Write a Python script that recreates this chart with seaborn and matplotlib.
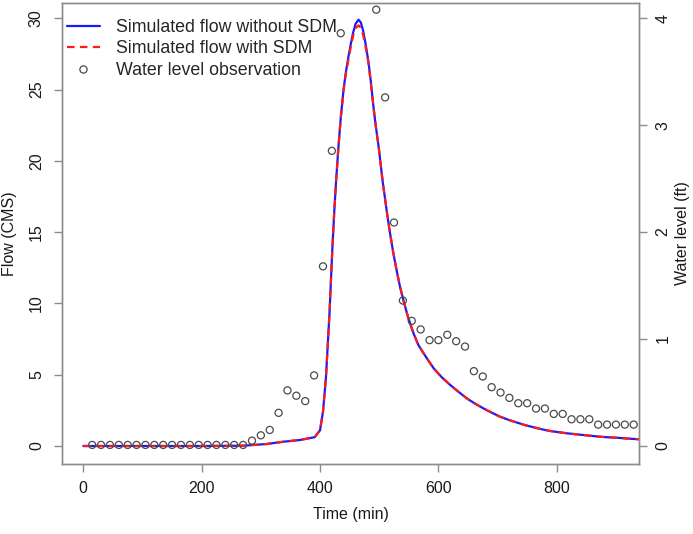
import numpy as np
import pandas as pd
import matplotlib
matplotlib.use("Agg")
import matplotlib.pyplot as plt
from matplotlib.lines import Line2D
import seaborn as sns

# ---------------- data ----------------
sim_time = [0, 100, 200, 270, 310, 338, 366, 391, 400, 405, 410, 416, 421, 424, 427,
            431, 435, 440, 444, 448, 452, 456, 460, 465, 469, 473, 477, 482, 486, 490,
            494, 499, 506, 513, 518, 524, 530, 535, 541, 549, 558, 566, 575, 583, 592,
            605, 620, 634, 648, 662, 676, 690, 704, 718, 733, 746, 761, 775, 789, 803,
            817, 831, 845, 859, 873, 887, 901, 920, 940]
flow_without_sdm = [0, 0, 0, 0.02, 0.14, 0.3, 0.42, 0.62, 1.1, 2.4, 4.8, 9.3, 14.0, 16.4, 18.5,
                    20.9, 23.0, 25.1, 26.3, 27.3, 28.2, 29.0, 29.6, 29.9, 29.7, 29.1, 28.2, 26.9, 25.5, 23.9,
                    22.5, 21.0, 18.5, 16.4, 15.0, 13.5, 12.2, 11.2, 10.2, 9.0, 7.9, 7.1, 6.5, 6.0, 5.45,
                    4.85, 4.28, 3.8, 3.34, 2.97, 2.64, 2.34, 2.06, 1.84, 1.64, 1.47, 1.31, 1.17, 1.05, 0.97,
                    0.89, 0.83, 0.77, 0.71, 0.65, 0.61, 0.58, 0.52, 0.47]
flow_with_sdm = [0, 0, 0, 0.02, 0.14, 0.3, 0.42, 0.62, 1.1, 2.4, 4.8, 9.3, 14.0, 16.4, 18.5,
                 20.9, 23.0, 25.0, 26.2, 27.1, 28.0, 28.8, 29.3, 29.5, 29.35, 28.8, 28.0, 26.8, 25.4, 23.9,
                 22.5, 21.0, 18.5, 16.4, 15.0, 13.5, 12.2, 11.2, 10.2, 9.0, 7.9, 7.1, 6.5, 6.0, 5.45,
                 4.85, 4.28, 3.8, 3.34, 2.97, 2.64, 2.34, 2.06, 1.84, 1.64, 1.47, 1.31, 1.17, 1.05, 0.97,
                 0.89, 0.83, 0.77, 0.71, 0.65, 0.61, 0.58, 0.52, 0.47]

obs_time = [15, 30, 45, 60, 75, 90, 105, 120, 135, 150, 165, 180, 195, 210, 225, 240, 255, 270,
            285, 300, 315, 330, 345, 360, 375, 390, 405, 420, 435, 495, 510, 525, 540, 555,
            570, 585, 600, 615, 630, 645, 660, 675, 690, 705, 720, 735, 750, 765, 780, 795,
            810, 825, 840, 855, 870, 885, 900, 915, 930]
obs_level = [0.01, 0.01, 0.01, 0.01, 0.01, 0.01, 0.01, 0.01, 0.01, 0.01, 0.01, 0.01, 0.01, 0.01,
             0.01, 0.01, 0.01, 0.01,
             0.05, 0.10, 0.15, 0.31, 0.52, 0.47, 0.42, 0.66, 1.68, 2.76, 3.86, 4.08, 3.26, 2.09, 1.36, 1.17,
             1.09, 0.99, 0.99, 1.04, 0.98, 0.93, 0.70, 0.65, 0.55, 0.50, 0.45, 0.40, 0.40, 0.35, 0.35, 0.30,
             0.30, 0.25, 0.25, 0.25, 0.20, 0.20, 0.20, 0.20, 0.20]

x_ticks = [0, 200, 400, 600, 800]
flow_ticks = [0, 5, 10, 15, 20, 25, 30]
level_ticks = [0, 1, 2, 3, 4]

labels = ["Simulated flow without SDM", "Simulated flow with SDM", "Water level observation"]

# ---------------- style ----------------
sns.set_style("white")
plt.rcParams["font.family"] = ["Liberation Sans", "DejaVu Sans"]

fig = plt.figure(figsize=(6.93, 5.34), dpi=100)
ax = fig.add_axes([62 / 693, 1 - 464 / 534, (639 - 62) / 693, (464 - 3) / 534])
ax2 = ax.twinx()

sim_df = pd.DataFrame({"time": sim_time, "without": flow_without_sdm, "with": flow_with_sdm})
obs_df = pd.DataFrame({"time": obs_time, "level": obs_level})

blue = "#1a1aff"
red = "#ff1a1a"
dash = (0, (3.4, 2.4))
sns.lineplot(data=sim_df, x="time", y="without", ax=ax, color=blue, lw=1.6,
             estimator=None, sort=True, legend=False)
sns.lineplot(data=sim_df, x="time", y="with", ax=ax, color=red, lw=1.6,
             estimator=None, sort=True, legend=False, linestyle=dash)
sns.scatterplot(data=obs_df, x="time", y="level", ax=ax2, marker="o", s=26,
                facecolor="none", edgecolor="#4a4a4a", linewidth=0.9, legend=False, zorder=5)

ax.set_xlim(-36, 939)
ax.set_ylim(-1.263, 31.07)
ax2.set_ylim(-1.263 / 7.5, 31.07 / 7.5)

ax.set_xticks(x_ticks)
ax.set_yticks(flow_ticks)
ax2.set_yticks(level_ticks)

spine_col = "#8c8c8c"
for a in (ax, ax2):
    for s in a.spines.values():
        s.set_color(spine_col)
        s.set_linewidth(1.0)
        s.set_visible(True)

fs = 11.5
txt = "#1a1a1a"
ax.tick_params(axis="x", length=6, width=1, color=spine_col, labelsize=fs, pad=6,
               labelcolor=txt, direction="out", bottom=True)
ax.tick_params(axis="y", length=6, width=1, color=spine_col, labelsize=fs, pad=7,
               labelcolor=txt, direction="out", left=True, labelrotation=90)
ax2.tick_params(axis="y", length=6, width=1, color=spine_col, labelsize=fs, pad=6,
                labelcolor=txt, direction="out", right=True, labelrotation=90)
for lab in ax.get_yticklabels() + ax2.get_yticklabels():
    lab.set_va("center")

ax.set_xlabel("Time (min)", fontsize=fs, color=txt)
ax.set_ylabel("Flow (CMS)", fontsize=fs, color=txt)
ax2.set_ylabel("Water level (ft)", fontsize=fs, color=txt, rotation=90)
ax.xaxis.set_label_coords((350.5 - 62) / 577, 1 - (514 - 3) / 461)
ax.yaxis.set_label_coords((10 - 62) / 577, 0.5)
ax2.yaxis.set_label_coords((682 - 62) / 577, 0.5)
ax.xaxis.label.set_va("center")
ax.yaxis.label.set_va("center")
ax2.yaxis.label.set_va("center")
ax.grid(False)
ax2.grid(False)

handles = [
    Line2D([0], [0], color=blue, lw=1.6),
    Line2D([0], [0], color=red, lw=1.6, linestyle=dash),
    Line2D([0], [0], marker="o", linestyle="none", markersize=5.2, markerfacecolor="none",
           markeredgecolor="#4a4a4a", markeredgewidth=0.9),
]
ax2.legend(handles, labels, loc="upper left", frameon=False, fontsize=12.8,
           bbox_to_anchor=(5 / 577, 1 - (19 - 3) / 461),
           handlelength=1.85, handletextpad=0.9, labelspacing=0.25,
           borderaxespad=0, borderpad=0)

fig.savefig("out.png", dpi=100)
